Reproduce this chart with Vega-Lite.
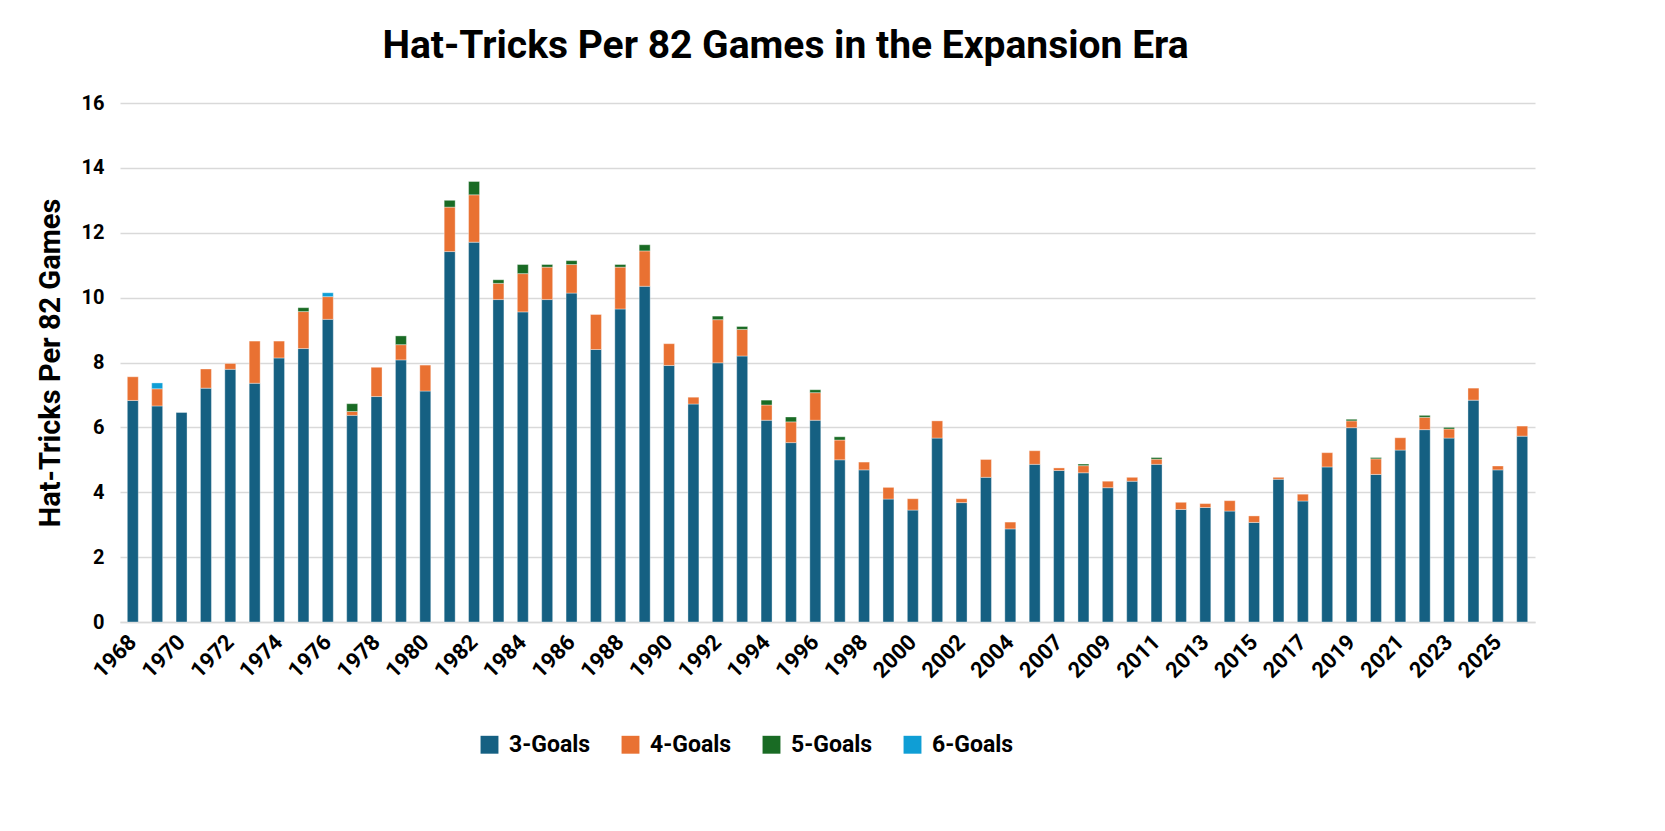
{
  "$schema": "https://vega.github.io/schema/vega-lite/v6.json",
  "width": 1415,
  "height": 519,
  "autosize": {"type": "none"},
  "padding": {"left": 120, "top": 103, "right": 130, "bottom": 209},
  "background": "white",
  "title": {
    "text": "Hat-Tricks Per 82 Games in the Expansion Era",
    "font": "Roboto",
    "fontSize": 39,
    "fontWeight": "bold",
    "color": "#000000",
    "anchor": "middle",
    "dx": -42,
    "offset": 27
  },
  "config": {
    "view": {"stroke": null},
    "font": "Roboto"
  },
  "data": {
    "values": [
      {"Season": "1968", "Type": "3-Goals", "Value": 6.83}, {"Season": "1968", "Type": "4-Goals", "Value": 0.73},
      {"Season": "1969", "Type": "3-Goals", "Value": 6.66}, {"Season": "1969", "Type": "4-Goals", "Value": 0.53}, {"Season": "1969", "Type": "6-Goals", "Value": 0.18},
      {"Season": "1970", "Type": "3-Goals", "Value": 6.46},
      {"Season": "1971", "Type": "3-Goals", "Value": 7.21}, {"Season": "1971", "Type": "4-Goals", "Value": 0.59},
      {"Season": "1972", "Type": "3-Goals", "Value": 7.79}, {"Season": "1972", "Type": "4-Goals", "Value": 0.18},
      {"Season": "1973", "Type": "3-Goals", "Value": 7.36}, {"Season": "1973", "Type": "4-Goals", "Value": 1.30},
      {"Season": "1974", "Type": "3-Goals", "Value": 8.14}, {"Season": "1974", "Type": "4-Goals", "Value": 0.52},
      {"Season": "1975", "Type": "3-Goals", "Value": 8.43}, {"Season": "1975", "Type": "4-Goals", "Value": 1.14}, {"Season": "1975", "Type": "5-Goals", "Value": 0.12},
      {"Season": "1976", "Type": "3-Goals", "Value": 9.33}, {"Season": "1976", "Type": "4-Goals", "Value": 0.70}, {"Season": "1976", "Type": "6-Goals", "Value": 0.12},
      {"Season": "1977", "Type": "3-Goals", "Value": 6.37}, {"Season": "1977", "Type": "4-Goals", "Value": 0.12}, {"Season": "1977", "Type": "5-Goals", "Value": 0.24},
      {"Season": "1978", "Type": "3-Goals", "Value": 6.95}, {"Season": "1978", "Type": "4-Goals", "Value": 0.90},
      {"Season": "1979", "Type": "3-Goals", "Value": 8.08}, {"Season": "1979", "Type": "4-Goals", "Value": 0.47}, {"Season": "1979", "Type": "5-Goals", "Value": 0.27},
      {"Season": "1980", "Type": "3-Goals", "Value": 7.12}, {"Season": "1980", "Type": "4-Goals", "Value": 0.80},
      {"Season": "1981", "Type": "3-Goals", "Value": 11.42}, {"Season": "1981", "Type": "4-Goals", "Value": 1.37}, {"Season": "1981", "Type": "5-Goals", "Value": 0.21},
      {"Season": "1982", "Type": "3-Goals", "Value": 11.71}, {"Season": "1982", "Type": "4-Goals", "Value": 1.46}, {"Season": "1982", "Type": "5-Goals", "Value": 0.41},
      {"Season": "1983", "Type": "3-Goals", "Value": 9.94}, {"Season": "1983", "Type": "4-Goals", "Value": 0.50}, {"Season": "1983", "Type": "5-Goals", "Value": 0.11},
      {"Season": "1984", "Type": "3-Goals", "Value": 9.56}, {"Season": "1984", "Type": "4-Goals", "Value": 1.18}, {"Season": "1984", "Type": "5-Goals", "Value": 0.28},
      {"Season": "1985", "Type": "3-Goals", "Value": 9.94}, {"Season": "1985", "Type": "4-Goals", "Value": 1.00}, {"Season": "1985", "Type": "5-Goals", "Value": 0.08},
      {"Season": "1986", "Type": "3-Goals", "Value": 10.14}, {"Season": "1986", "Type": "4-Goals", "Value": 0.88}, {"Season": "1986", "Type": "5-Goals", "Value": 0.12},
      {"Season": "1987", "Type": "3-Goals", "Value": 8.40}, {"Season": "1987", "Type": "4-Goals", "Value": 1.08},
      {"Season": "1988", "Type": "3-Goals", "Value": 9.65}, {"Season": "1988", "Type": "4-Goals", "Value": 1.29}, {"Season": "1988", "Type": "5-Goals", "Value": 0.08},
      {"Season": "1989", "Type": "3-Goals", "Value": 10.35}, {"Season": "1989", "Type": "4-Goals", "Value": 1.09}, {"Season": "1989", "Type": "5-Goals", "Value": 0.19},
      {"Season": "1990", "Type": "3-Goals", "Value": 7.91}, {"Season": "1990", "Type": "4-Goals", "Value": 0.67},
      {"Season": "1991", "Type": "3-Goals", "Value": 6.72}, {"Season": "1991", "Type": "4-Goals", "Value": 0.21},
      {"Season": "1992", "Type": "3-Goals", "Value": 7.99}, {"Season": "1992", "Type": "4-Goals", "Value": 1.33}, {"Season": "1992", "Type": "5-Goals", "Value": 0.11},
      {"Season": "1993", "Type": "3-Goals", "Value": 8.20}, {"Season": "1993", "Type": "4-Goals", "Value": 0.82}, {"Season": "1993", "Type": "5-Goals", "Value": 0.09},
      {"Season": "1994", "Type": "3-Goals", "Value": 6.22}, {"Season": "1994", "Type": "4-Goals", "Value": 0.47}, {"Season": "1994", "Type": "5-Goals", "Value": 0.15},
      {"Season": "1995", "Type": "3-Goals", "Value": 5.53}, {"Season": "1995", "Type": "4-Goals", "Value": 0.64}, {"Season": "1995", "Type": "5-Goals", "Value": 0.15},
      {"Season": "1996", "Type": "3-Goals", "Value": 6.22}, {"Season": "1996", "Type": "4-Goals", "Value": 0.85}, {"Season": "1996", "Type": "5-Goals", "Value": 0.09},
      {"Season": "1997", "Type": "3-Goals", "Value": 5.00}, {"Season": "1997", "Type": "4-Goals", "Value": 0.61}, {"Season": "1997", "Type": "5-Goals", "Value": 0.10},
      {"Season": "1998", "Type": "3-Goals", "Value": 4.69}, {"Season": "1998", "Type": "4-Goals", "Value": 0.24},
      {"Season": "1999", "Type": "3-Goals", "Value": 3.79}, {"Season": "1999", "Type": "4-Goals", "Value": 0.36},
      {"Season": "2000", "Type": "3-Goals", "Value": 3.45}, {"Season": "2000", "Type": "4-Goals", "Value": 0.35},
      {"Season": "2001", "Type": "3-Goals", "Value": 5.67}, {"Season": "2001", "Type": "4-Goals", "Value": 0.53},
      {"Season": "2002", "Type": "3-Goals", "Value": 3.68}, {"Season": "2002", "Type": "4-Goals", "Value": 0.12},
      {"Season": "2003", "Type": "3-Goals", "Value": 4.46}, {"Season": "2003", "Type": "4-Goals", "Value": 0.55},
      {"Season": "2004", "Type": "3-Goals", "Value": 2.87}, {"Season": "2004", "Type": "4-Goals", "Value": 0.21},
      {"Season": "2006", "Type": "3-Goals", "Value": 4.86}, {"Season": "2006", "Type": "4-Goals", "Value": 0.42},
      {"Season": "2007", "Type": "3-Goals", "Value": 4.67}, {"Season": "2007", "Type": "4-Goals", "Value": 0.08},
      {"Season": "2008", "Type": "3-Goals", "Value": 4.60}, {"Season": "2008", "Type": "4-Goals", "Value": 0.22}, {"Season": "2008", "Type": "5-Goals", "Value": 0.05},
      {"Season": "2009", "Type": "3-Goals", "Value": 4.14}, {"Season": "2009", "Type": "4-Goals", "Value": 0.20},
      {"Season": "2010", "Type": "3-Goals", "Value": 4.34}, {"Season": "2010", "Type": "4-Goals", "Value": 0.12},
      {"Season": "2011", "Type": "3-Goals", "Value": 4.86}, {"Season": "2011", "Type": "4-Goals", "Value": 0.16}, {"Season": "2011", "Type": "5-Goals", "Value": 0.05},
      {"Season": "2012", "Type": "3-Goals", "Value": 3.47}, {"Season": "2012", "Type": "4-Goals", "Value": 0.22},
      {"Season": "2013", "Type": "3-Goals", "Value": 3.53}, {"Season": "2013", "Type": "4-Goals", "Value": 0.12},
      {"Season": "2014", "Type": "3-Goals", "Value": 3.42}, {"Season": "2014", "Type": "4-Goals", "Value": 0.32},
      {"Season": "2015", "Type": "3-Goals", "Value": 3.07}, {"Season": "2015", "Type": "4-Goals", "Value": 0.20},
      {"Season": "2016", "Type": "3-Goals", "Value": 4.40}, {"Season": "2016", "Type": "4-Goals", "Value": 0.06},
      {"Season": "2017", "Type": "3-Goals", "Value": 3.73}, {"Season": "2017", "Type": "4-Goals", "Value": 0.21},
      {"Season": "2018", "Type": "3-Goals", "Value": 4.78}, {"Season": "2018", "Type": "4-Goals", "Value": 0.44},
      {"Season": "2019", "Type": "3-Goals", "Value": 5.99}, {"Season": "2019", "Type": "4-Goals", "Value": 0.21}, {"Season": "2019", "Type": "5-Goals", "Value": 0.05},
      {"Season": "2020", "Type": "3-Goals", "Value": 4.55}, {"Season": "2020", "Type": "4-Goals", "Value": 0.48}, {"Season": "2020", "Type": "5-Goals", "Value": 0.04},
      {"Season": "2021", "Type": "3-Goals", "Value": 5.30}, {"Season": "2021", "Type": "4-Goals", "Value": 0.38},
      {"Season": "2022", "Type": "3-Goals", "Value": 5.93}, {"Season": "2022", "Type": "4-Goals", "Value": 0.38}, {"Season": "2022", "Type": "5-Goals", "Value": 0.06},
      {"Season": "2023", "Type": "3-Goals", "Value": 5.67}, {"Season": "2023", "Type": "4-Goals", "Value": 0.28}, {"Season": "2023", "Type": "5-Goals", "Value": 0.05},
      {"Season": "2024", "Type": "3-Goals", "Value": 6.84}, {"Season": "2024", "Type": "4-Goals", "Value": 0.37},
      {"Season": "2025", "Type": "3-Goals", "Value": 4.69}, {"Season": "2025", "Type": "4-Goals", "Value": 0.12},
      {"Season": "2026", "Type": "3-Goals", "Value": 5.73}, {"Season": "2026", "Type": "4-Goals", "Value": 0.31}
    ]
  },
  "mark": {"type": "bar", "stroke": "white", "strokeWidth": 0.6, "strokeOpacity": 0.6},
  "encoding": {
    "x": {
      "field": "Season",
      "type": "ordinal",
      "sort": null,
      "title": null,
      "scale": {"paddingInner": 0.55, "paddingOuter": 0.3},
      "axis": {
        "values": ["1968","1970","1972","1974","1976","1978","1980","1982","1984","1986","1988","1990","1992","1994","1996","1998","2000","2002","2004","2007","2009","2011","2013","2015","2017","2019","2021","2023","2025"],
        "labelAngle": -45,
        "labelAlign": "right",
        "labelBaseline": "middle",
        "labelFont": "Roboto",
        "labelFontSize": 22,
        "labelFontWeight": "bold",
        "labelColor": "#000000",
        "labelPadding": 16,
        "ticks": false,
        "domainColor": "#d9d9d9",
        "domainWidth": 1.5,
        "grid": false
      }
    },
    "y": {
      "field": "Value",
      "type": "quantitative",
      "aggregate": "sum",
      "stack": "zero",
      "title": "Hat-Tricks Per 82 Games",
      "scale": {"domain": [0, 16], "nice": false},
      "axis": {
        "values": [0, 2, 4, 6, 8, 10, 12, 14, 16],
        "domain": false,
        "ticks": false,
        "gridColor": "#d9d9d9",
        "gridWidth": 1.5,
        "labelFont": "Roboto",
        "labelFontSize": 20,
        "labelFontWeight": "bold",
        "labelColor": "#000000",
        "labelPadding": 16,
        "titleFont": "Roboto",
        "titleFontSize": 29,
        "titleFontWeight": "bold",
        "titleColor": "#000000",
        "titlePadding": 16
      }
    },
    "color": {
      "field": "Type",
      "type": "nominal",
      "scale": {
        "domain": ["3-Goals", "4-Goals", "5-Goals", "6-Goals"],
        "range": ["#156082", "#E97132", "#196B24", "#0F9ED5"]
      },
      "legend": {
        "title": null,
        "orient": "none",
        "legendX": 358,
        "legendY": 630,
        "direction": "horizontal",
        "symbolType": "square",
        "symbolSize": 320,
        "symbolStrokeWidth": 0,
        "labelFont": "Roboto",
        "labelFontSize": 23,
        "labelFontWeight": "bold",
        "labelColor": "#000000",
        "labelOffset": 8,
        "columnPadding": 28
      }
    },
    "order": {"field": "Type", "sort": "ascending"}
  }
}
